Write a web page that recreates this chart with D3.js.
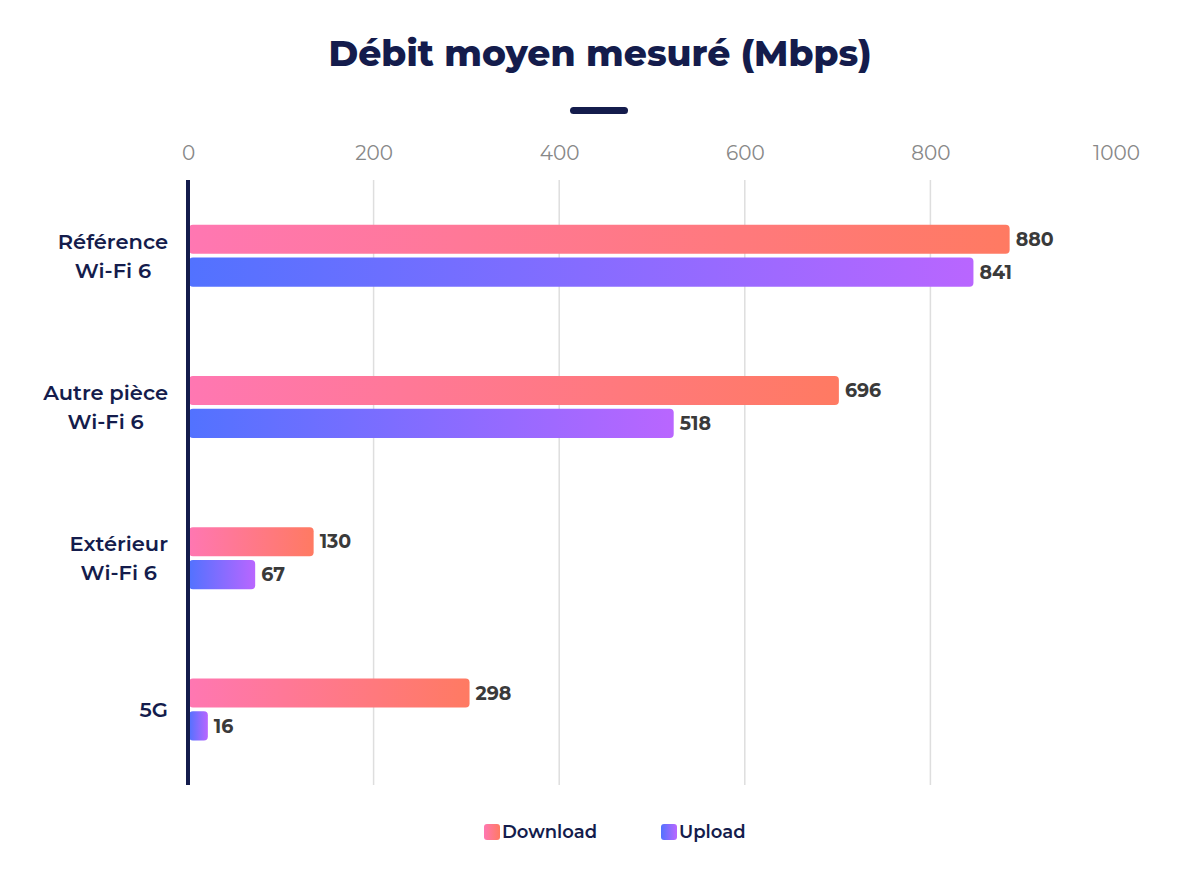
<!DOCTYPE html>
<html>
<head>
<meta charset="utf-8">
<script src="https://cdn.jsdelivr.net/npm/d3@7"></script>
<style>
  body { margin: 0; background: #fff; }
  svg { font-family: Montserrat, "Noto Sans", sans-serif; }
</style>
</head>
<body>
<svg id="graph" width="1200" height="875"></svg>
<script>
// data
const categories = [["Référence", "Wi-Fi 6"], ["Autre pièce", "Wi-Fi 6"], ["Extérieur", "Wi-Fi 6"], ["5G"]]
const download = [880, 696, 130, 298]
const upload = [841, 518, 67, 16]
const ticks = [0, 200, 400, 600, 800, 1000]
const seriesNames = ["Download", "Upload"]

const navy = "#141c4c"
const margin = { top: 180, right: 84, bottom: 90, left: 188 }
const width = 1200 - margin.left - margin.right
const height = 875 - margin.top - margin.bottom

const svg = d3.select("#graph")

// gradients for the two series
const defs = svg.append("defs")
const grads = [
    { id: "gDown", from: "#ff77b2", to: "#ff7a62" },
    { id: "gUp", from: "#5272ff", to: "#b966ff" }
]
grads.forEach(g => {
    let lg = defs.append("linearGradient").attr("id", g.id)
        .attr("x1", "0%").attr("x2", "100%").attr("y1", "0%").attr("y2", "0%")
    lg.append("stop").attr("offset", "0%").attr("stop-color", g.from)
    lg.append("stop").attr("offset", "100%").attr("stop-color", g.to)
})

// title
svg.append("text")
    .attr("x", 600).attr("y", 66)
    .attr("text-anchor", "middle")
    .attr("fill", navy)
    .attr("font-size", 36).attr("font-weight", 800)
    .text("Débit moyen mesuré (Mbps)")
svg.append("rect")
    .attr("x", 570).attr("y", 107).attr("width", 58).attr("height", 7)
    .attr("rx", 3.5).attr("fill", navy)

const g = svg.append("g").attr("transform", `translate(${margin.left},${margin.top})`)

const x = d3.scaleLinear().domain([0, 1000]).range([0, 928])
const y = d3.scaleBand().domain(d3.range(categories.length)).range([0, height])
const inner = d3.scaleBand().domain([0, 1]).range([0, 62]).paddingInner(0.12)

// gridlines
g.selectAll(".grid")
    .data(ticks.slice(1, -1))
    .join("line")
    .attr("class", "grid")
    .attr("x1", d => x(d)).attr("x2", d => x(d))
    .attr("y1", 0).attr("y2", height)
    .attr("stroke", "#dedede").attr("stroke-width", 1.5)

// top axis labels
const xaxis = d3.axisTop(x).tickValues(ticks).tickSize(0).tickPadding(20).tickFormat(d3.format("d"))
g.append("g").call(xaxis)
    .call(a => a.select(".domain").remove())
    .selectAll("text")
    .attr("fill", "#888").attr("font-size", 20)
    .attr("font-family", 'Montserrat, "Noto Sans", sans-serif')

// bars
const rows = categories.map((c, i) => ({ i, vals: [download[i], upload[i]] }))
const group = g.selectAll(".cat").data(rows).join("g")
    .attr("class", "cat")
    .attr("transform", d => `translate(0,${y(d.i) + y.bandwidth() / 2 - 31})`)

group.selectAll("rect")
    .data(d => d.vals)
    .join("rect")
    .attr("x", x(0) + 1)
    .attr("y", (d, j) => inner(j))
    .attr("height", inner.bandwidth())
    .attr("width", d => x(d) - x(0) + 4)
    .attr("rx", 4)
    .attr("fill", (d, j) => `url(#${grads[j].id})`)

group.selectAll(".val")
    .data(d => d.vals)
    .join("text")
    .attr("class", "val")
    .attr("x", d => x(d) + 11)
    .attr("y", (d, j) => inner(j) + inner.bandwidth() / 2)
    .attr("dy", "0.36em")
    .attr("fill", "#3a3a3a")
    .attr("font-size", 19).attr("font-weight", 700)
    .text(d => d)

// category labels, lines centred, block right-aligned
group.each(function (d) {
    let lines = categories[d.i]
    let t = d3.select(this).append("text")
        .attr("fill", navy).attr("font-size", 21).attr("font-weight", 600)
        .attr("text-anchor", "middle")
    let spans = lines.map((l, k) => t.append("tspan").text(l)
        .attr("x", 0)
        .attr("y", 31 + (k - (lines.length - 1) / 2) * 29)
        .attr("dy", "0.36em"))
    let w = d3.max(spans, s => s.node().getComputedTextLength())
    t.selectAll("tspan").attr("x", -20 - w / 2)
})

// axis line
g.append("line")
    .attr("x1", x(0)).attr("x2", x(0))
    .attr("y1", 0).attr("y2", height)
    .attr("stroke", navy).attr("stroke-width", 4)

// legend
const legend = svg.append("g").selectAll("g")
    .data(seriesNames)
    .join("g")
    .attr("transform", (d, i) => `translate(${484 + i * 177},824)`)
legend.append("rect")
    .attr("width", 16).attr("height", 16).attr("rx", 3)
    .attr("fill", (d, i) => `url(#${grads[i].id})`)
legend.append("text")
    .attr("x", 18).attr("y", 8).attr("dy", "0.36em")
    .attr("fill", navy).attr("font-size", 18).attr("font-weight", 600)
    .text(d => d)
</script>
</body>
</html>
